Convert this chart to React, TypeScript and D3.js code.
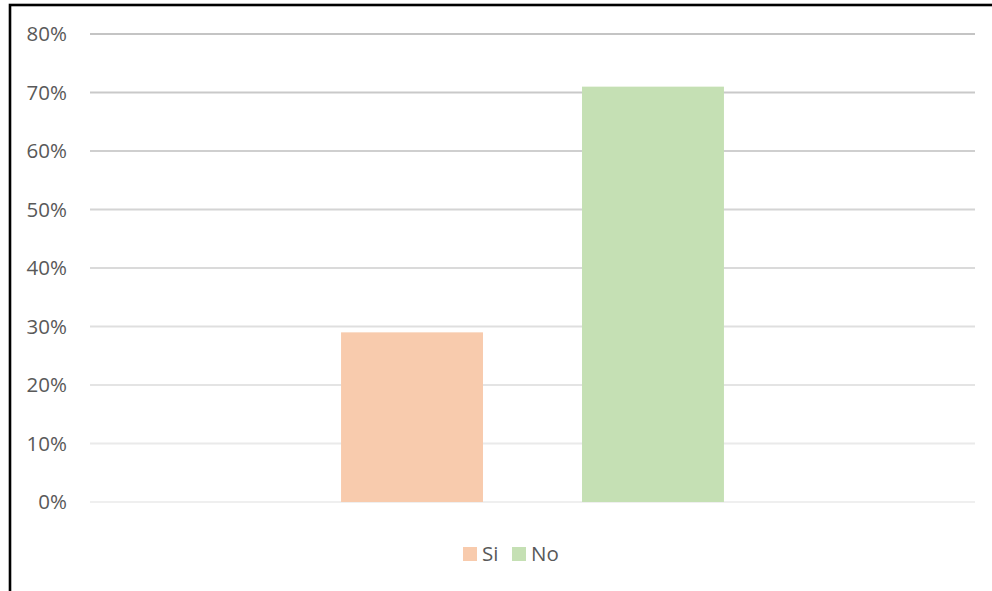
import * as d3 from "d3";

const categories = [""];
const seriesNames = ["Si", "No"];
const seriesValues = [0.29, 0.71];
const yTicks = [0, 0.1, 0.2, 0.3, 0.4, 0.5, 0.6, 0.7, 0.8];

const colors: Record<string, string> = { Si: "#F8CBAD", No: "#C5E0B4" };

const width = 992;
const height = 591;
const margin = { top: 34, right: 17, bottom: 89, left: 90 };
const innerW = width - margin.left - margin.right;
const innerH = height - margin.top - margin.bottom;
const font = "'Open Sans', 'Noto Sans', sans-serif";
const textColor = "#595959";

export default function App() {
  const y = d3.scaleLinear().domain([0, 0.8]).range([innerH, 0]);
  const x0 = d3.scaleBand().domain(categories).range([0, innerW]).paddingInner(0.396).paddingOuter(0.396);
  const x1 = d3.scaleBand().domain(seriesNames).range([0, x0.bandwidth()]).paddingInner(0.411);
  const fmt = d3.format(".0%");
  const gridColor = d3.interpolateRgb("#efefef", "#c4c4c4");

  const legendX = [463, 512];

  return (
    <svg
      width={width}
      height={height}
      style={{ position: "absolute", left: 0, top: 0, background: "#fff" }}
    >
      <rect x={10} y={5} width={width + 20} height={height + 20} fill="#fff" stroke="#000" strokeWidth={2.6} />
      <g transform={`translate(${margin.left},${margin.top})`}>
        {yTicks.map((t, i) => (
          <g key={t}>
            <line
              x1={0}
              x2={innerW}
              y1={y(t)}
              y2={y(t)}
              stroke={gridColor(i / (yTicks.length - 1))}
              strokeWidth={2}
            />
            <text
              x={-23}
              y={y(t)}
              dy="0.36em"
              textAnchor="end"
              fontFamily={font}
              fontSize={20.5}
              fill={textColor}
            >
              {fmt(t)}
            </text>
          </g>
        ))}
        {categories.map((c) => (
          <g key={c} transform={`translate(${x0(c)},0)`}>
            {seriesNames.map((s, i) => (
              <rect
                key={s}
                x={x1(s)}
                y={y(seriesValues[i])}
                width={x1.bandwidth()}
                height={innerH - y(seriesValues[i])}
                fill={colors[s]}
              />
            ))}
          </g>
        ))}
      </g>
      {seriesNames.map((s, i) => (
        <g key={s} transform={`translate(${legendX[i]},547)`}>
          <rect width={14} height={14} fill={colors[s]} />
          <text x={19} y={7} dy="0.36em" fontFamily={font} fontSize={20.5} fill={textColor}>
            {s}
          </text>
        </g>
      ))}
    </svg>
  );
}
